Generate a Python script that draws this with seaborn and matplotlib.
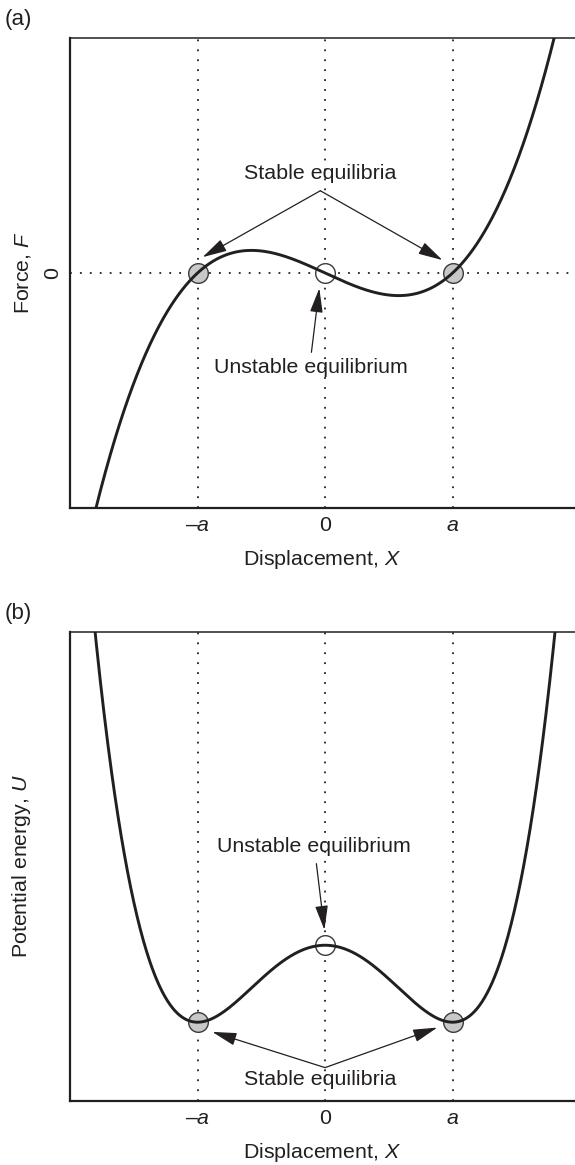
import numpy as np
import matplotlib
matplotlib.use("Agg")
import matplotlib.pyplot as plt
import seaborn as sns

# ---- data (x in units of a) ----
equilibria_x = [-1.0, 0.0, 1.0]
tick_labels = ["\u2013$a$", "0", "$a$"]
stable_x = [-1.0, 1.0]
unstable_x = [0.0]
force_stable_y = [0.0, 0.0]
force_unstable_y = [0.0]
energy_stable_y = [0.0, 0.0]
energy_unstable_y = [1.0]
# polynomial coefficients (highest power first)
force_coeffs = [1.0, 0.0, -1.0, 0.0]          # F ~ X^3 - a^2 X
energy_coeffs = [1.0, 0.0, -2.0, 0.0, 1.0]    # U ~ (X^2 - a^2)^2

sns.set_theme(style="white")
plt.rcParams["font.family"] = ["Liberation Sans", "DejaVu Sans"]
plt.rcParams["mathtext.fontset"] = "custom"
plt.rcParams["mathtext.it"] = "Liberation Sans:italic"
plt.rcParams["mathtext.rm"] = "Liberation Sans"
plt.rcParams["mathtext.default"] = "it"

INK = "#231f20"
FS = 15.4

fig = plt.figure(figsize=(5.75, 11.65), dpi=100)
W, H = 575, 1165
ax1 = fig.add_axes([70 / W, 1 - 508 / H, 1 - 70 / W, (508 - 38) / H])
ax2 = fig.add_axes([70 / W, 1 - 1100.7 / H, 1 - 70 / W, (1100.7 - 632) / H])

xs = np.linspace(-2.0, 1.96, 800)
XLIM = (-2.0, 1.96)


def style_axes(ax):
    ax.set_xlim(*XLIM)
    for s in ["left", "bottom"]:
        ax.spines[s].set_linewidth(1.6)
        ax.spines[s].set_color(INK)
    ax.spines["top"].set_linewidth(1.1)
    ax.spines["top"].set_color(INK)
    ax.spines["right"].set_visible(False)
    ax.set_xticks(equilibria_x)
    ax.set_xticklabels(tick_labels, fontsize=FS, color=INK)
    ax.tick_params(axis="x", direction="in", length=4, width=1, colors=INK, pad=6)
    ax.set_xlabel("Displacement, $X$", fontsize=FS, color=INK, labelpad=9)
    for xv in equilibria_x:
        ax.axvline(xv, color=INK, lw=1.3, linestyle=(0, (1, 4.5)), zorder=1)


def arrow(ax, tail, tip):
    ax.annotate("", xy=tip, xytext=tail, xycoords="data", textcoords="data",
                arrowprops=dict(arrowstyle="-|>,head_length=1.25,head_width=0.33",
                                mutation_scale=12, color=INK, lw=0.9,
                                shrinkA=0, shrinkB=0), zorder=5)


# ---- (a) force ----
style_axes(ax1)
ax1.set_ylim(-4.0, 4.0)
ax1.axhline(0, color=INK, lw=1.3, linestyle=(0, (1, 4.5)), zorder=1)
sns.scatterplot(x=stable_x, y=force_stable_y, ax=ax1, s=200, color="#c8c8c8",
                edgecolor="#3a3a3a", linewidth=1.0, zorder=2, clip_on=False)
sns.scatterplot(x=unstable_x, y=force_unstable_y, ax=ax1, s=200, color="white",
                edgecolor="#3a3a3a", linewidth=1.0, zorder=2, clip_on=False)
sns.lineplot(x=xs, y=np.polyval(force_coeffs, xs), ax=ax1, color=INK, lw=2.1,
             estimator=None, sort=False, zorder=3)
ax1.set_yticks([0])
ax1.set_yticklabels(["0"], rotation=90, va="center", fontsize=FS, color=INK)
ax1.tick_params(axis="y", direction="in", length=4, width=1, colors=INK, pad=6)
ax1.set_ylabel("Force, $F$", fontsize=FS, color=INK)
ax1.yaxis.set_label_coords(-0.073, 0.5)

ax1.text(-0.037, 1.70, "Stable equilibria", ha="center", va="center",
         fontsize=FS, color=INK)
arrow(ax1, (-0.037, 1.40), (-0.96, 0.27))
arrow(ax1, (-0.037, 1.40), (0.92, 0.22))
ax1.text(-0.115, -1.60, "Unstable equilibrium", ha="center", va="center",
         fontsize=FS, color=INK)
arrow(ax1, (-0.107, -1.35), (-0.045, -0.26))

# ---- (b) potential energy ----
style_axes(ax2)
ax2.set_ylim(-1.02, 5.07)
sns.scatterplot(x=stable_x, y=energy_stable_y, ax=ax2, s=200, color="#c8c8c8",
                edgecolor="#3a3a3a", linewidth=1.0, zorder=2)
sns.scatterplot(x=unstable_x, y=energy_unstable_y, ax=ax2, s=200, color="white",
                edgecolor="#3a3a3a", linewidth=1.0, zorder=2)
sns.lineplot(x=xs, y=np.polyval(energy_coeffs, xs), ax=ax2, color=INK, lw=2.1,
             estimator=None, sort=False, zorder=3)
ax2.set_yticks([])
ax2.set_ylabel("Potential energy, $U$", fontsize=FS, color=INK)
ax2.yaxis.set_label_coords(-0.073, 0.5)

ax2.text(-0.084, 2.28, "Unstable equilibrium", ha="center", va="center",
         fontsize=FS, color=INK)
arrow(ax2, (-0.068, 2.06), (-0.005, 1.20))
ax2.text(-0.037, -0.75, "Stable equilibria", ha="center", va="center",
         fontsize=FS, color=INK)
arrow(ax2, (0.0, -0.59), (-0.884, -0.126))
arrow(ax2, (0.0, -0.59), (0.88, -0.07))

fig.text(5 / W, 1 - 20 / H, "(a)", ha="left", va="center", fontsize=16, color=INK)
fig.text(5 / W, 1 - 613 / H, "(b)", ha="left", va="center", fontsize=16, color=INK)

fig.savefig("out.png", dpi=100, facecolor="white")
